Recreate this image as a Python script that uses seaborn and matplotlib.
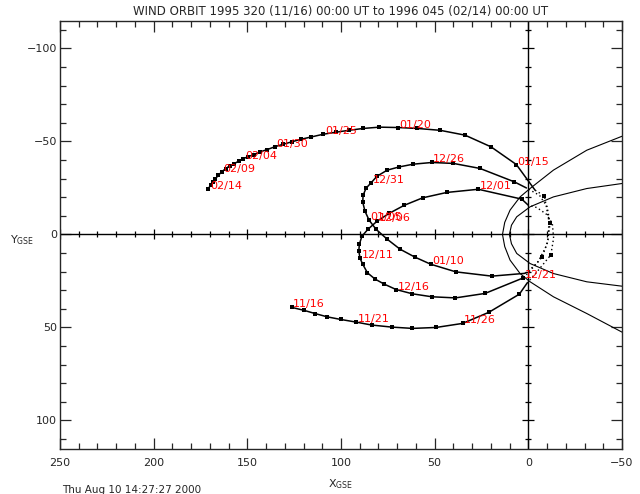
import numpy as np
import matplotlib
matplotlib.use('Agg')
import matplotlib.pyplot as plt
from matplotlib.ticker import MultipleLocator
import seaborn as sns

# WIND orbit in GSE, one point per day from 1995-11-16 to 1996-02-14 (Re)
orbit_x = [126.3, 119.7, 113.9, 107.3, 100.1, 92.0, 83.6, 72.9, 61.9, 49.3,
           35.0, 21.0, 4.8, -12.0, 3.5, 26.7, 43.5, 56.4, 66.2, 74.2,
           80.8, 85.6, 88.8, 90.2, 90.5, 89.8, 88.4, 85.9, 81.8, 76.9,
           70.6, 61.9, 51.5, 38.9, 23.1, 2.6, -11.6, 7.5, 25.8, 40.0,
           51.5, 61.4, 69.0, 75.3, 80.8, 84.0, 86.6, 88.2, 88.4, 87.2,
           85.0, 81.3, 75.4, 68.5, 60.5, 52.1, 38.7, 19.5, -7.5, -8.6,
           6.4, 19.9, 33.8, 47.1, 59.2, 69.8, 79.5, 88.2, 95.7, 102.6,
           109.4, 116.0, 121.3, 126.3, 130.9, 135.2, 139.5, 143.2, 146.7, 149.6,
           152.1, 154.7, 157.1, 159.2, 161.6, 163.7, 165.4, 167.0, 168.2, 169.6,
           170.8]
orbit_y = [39.2, 40.8, 42.5, 44.3, 45.7, 47.1, 48.7, 49.8, 50.5, 50.0,
           47.8, 41.8, 32.1, 11.0, -19.0, -24.3, -22.6, -19.7, -15.7, -11.4,
           -7.1, -2.8, 0.9, 5.2, 9.0, 12.9, 16.0, 20.6, 24.0, 26.7,
           29.6, 31.9, 33.5, 34.1, 31.7, 23.3, -5.9, -28.3, -35.5, -38.2,
           -38.7, -37.8, -36.3, -34.6, -31.3, -27.7, -24.9, -21.1, -17.4, -12.5,
           -7.7, -2.8, 2.5, 7.9, 12.2, 16.0, 20.1, 22.4, 12.0, -20.7,
           -37.6, -47.1, -53.4, -56.0, -57.0, -57.5, -57.7, -57.0, -56.0, -55.0,
           -53.9, -52.4, -51.2, -49.8, -48.5, -47.2, -45.6, -44.4, -42.9, -41.8,
           -40.8, -39.4, -38.0, -37.0, -35.4, -33.6, -31.9, -30.0, -28.3, -26.5,
           -24.7]

label_dates = ['11/16', '11/21', '11/26', '12/01', '12/06', '12/11', '12/16',
               '12/21', '12/26', '12/31', '01/05', '01/10', '01/15', '01/20',
               '01/25', '01/30', '02/04', '02/09', '02/14']
label_step = 5

# perigee passes (drawn dotted), from lower crossing to upper crossing
arc1_x = [0.7, -5.5, -12.0, -13.5, -12.8, -9.5, -4.5, 0.0]
arc1_y = [26.2, 19.0, 11.0, 2.0, -6.0, -11.0, -14.5, -15.7]
arc2_x = [2.6, -5.0, -10.0, -11.6, -10.0, -6.0, 1.0]
arc2_y = [23.3, 15.0, 5.5, -5.9, -15.0, -21.0, -25.0]
arc3_x = [1.8, -3.0, -7.5, -10.5, -11.0, -8.6, -3.6]
arc3_y = [20.9, 17.0, 12.0, 3.0, -7.0, -20.7, -23.8]

# solid legs between the passes (day index ranges)
legs = [(0, 13), (14, 36), (37, 58), (60, 91)]

# model bow shock and magnetopause
shock_x = [-50.0, -31.2, -13.4, -0.9, 4.4, 9.75, 12.6, 13.8, 12.6, 9.75, 4.4, -0.9, -13.4, -31.2, -50.0]
shock_y = [-52.8, -45.3, -34.6, -24.7, -20.2, -13.1, -6.5, 0.0, 6.5, 13.8, 21.0, 25.4, 33.5, 42.5, 52.5]
mpause_x = [-50.0, -31.2, -13.4, -0.9, 6.2, 9.0, 10.1, 9.0, 6.2, -0.9, -13.4, -31.2, -50.0]
mpause_y = [-27.4, -24.7, -20.2, -14.85, -9.5, -5.0, 0.0, 5.0, 10.2, 15.6, 21.0, 25.45, 27.8]

sns.set_style('ticks')
plt.rcParams['font.family'] = ['DejaVu Sans']

fig = plt.figure(figsize=(6.4, 4.94), dpi=100)
ax = fig.add_axes([60 / 640, 1 - 449.3 / 494, 562 / 640, 427.8 / 494])

xlim = (250, -50)
ylim = (115.5, -114.5)

# axes through the origin with cross ticks
ax.axhline(0, color='black', lw=1.0, zorder=1)
ax.axvline(0, color='black', lw=1.0, zorder=1)
xt = np.arange(-50, 251, 10)
yt = np.arange(-110, 111, 10)
ax.plot(xt[xt % 50 != 0], np.zeros((xt % 50 != 0).sum()), ls='none', marker='|', ms=5, mew=0.9, color='black')
ax.plot(xt[xt % 50 == 0], np.zeros((xt % 50 == 0).sum()), ls='none', marker='|', ms=7, mew=0.9, color='black')
ax.plot(np.zeros((yt % 50 != 0).sum()), yt[yt % 50 != 0], ls='none', marker='_', ms=5, mew=0.9, color='black')
ax.plot(np.zeros((yt % 50 == 0).sum()), yt[yt % 50 == 0], ls='none', marker='_', ms=8, mew=0.9, color='black')

# boundaries
sns.lineplot(x=shock_x, y=shock_y, sort=False, estimator=None, color='black', lw=0.8, ax=ax)
sns.lineplot(x=mpause_x, y=mpause_y, sort=False, estimator=None, color='black', lw=0.8, ax=ax)

# orbit
ox = np.array(orbit_x)
oy = np.array(orbit_y)
crossings = [(None, (arc1_x[0], arc1_y[0])),
             ((arc1_x[-1], arc1_y[-1]), (arc2_x[0], arc2_y[0])),
             ((arc2_x[-1], arc2_y[-1]), (arc3_x[0], arc3_y[0])),
             ((arc3_x[-1], arc3_y[-1]), None)]
for (i0, i1), (start, end) in zip(legs, crossings):
    lx = list(ox[i0:i1])
    ly = list(oy[i0:i1])
    if start is not None:
        lx.insert(0, start[0])
        ly.insert(0, start[1])
    if end is not None:
        lx.append(end[0])
        ly.append(end[1])
    sns.lineplot(x=lx, y=ly, sort=False, estimator=None, color='black', lw=1.1, ax=ax)

for axx, ayy in [(arc1_x, arc1_y), (arc2_x, arc2_y), (arc3_x, arc3_y)]:
    sns.lineplot(x=axx, y=ayy, sort=False, estimator=None, color='black', lw=1.0,
                 linestyle=(0, (1, 2)), ax=ax)

sns.scatterplot(x=orbit_x, y=orbit_y, marker='s', s=7, color='black', linewidth=0, ax=ax, zorder=3)

for k, lab in enumerate(label_dates):
    i = k * label_step
    ax.annotate(lab, (orbit_x[i], orbit_y[i]), xytext=(1, 0), textcoords='offset points',
                color='red', fontsize=8, ha='left', va='baseline', zorder=4)

ax.set_xlim(*xlim)
ax.set_ylim(*ylim)
ax.set_xticks([250, 200, 150, 100, 50, 0, -50])
ax.set_yticks([-100, -50, 0, 50, 100])
ax.xaxis.set_minor_locator(MultipleLocator(10))
ax.yaxis.set_minor_locator(MultipleLocator(10))
ax.tick_params(which='both', direction='in', top=True, right=True, labelsize=8, width=0.9)
ax.tick_params(which='major', length=8)
ax.tick_params(which='minor', length=4)
ax.tick_params(axis='x', pad=6)
ax.tick_params(axis='y', pad=2)
for sp in ax.spines.values():
    sp.set_linewidth(1.0)

ax.set_title('WIND ORBIT 1995 320 (11/16) 00:00 UT to 1996 045 (02/14) 00:00 UT',
             fontsize=8.5, pad=5)
ax.set_xlabel(r'X$_{\rm GSE}$', fontsize=8)
ax.xaxis.set_label_coords(0.5, -0.065)
ax.set_ylabel(r'Y$_{\rm GSE}$', fontsize=8, rotation=0, va='center', ha='center')
ax.yaxis.set_label_coords(-0.068, 0.489)

fig.text(62 / 640, 1 - 490 / 494, 'Thu Aug 10 14:27:27 2000', fontsize=7.5, ha='left', va='center')

fig.savefig('out.png', dpi=100)
